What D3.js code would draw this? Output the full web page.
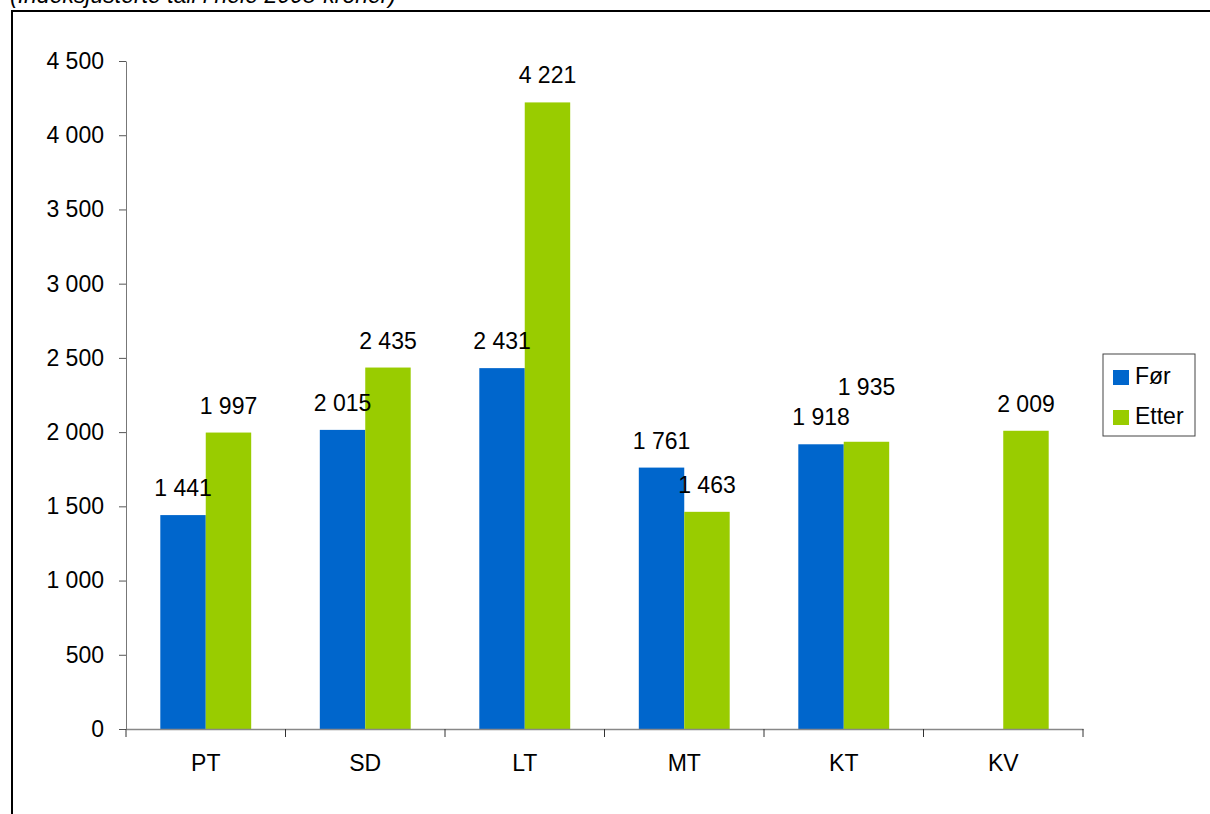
<!DOCTYPE html>
<html>
<head>
<meta charset="utf-8">
<script src="https://cdn.jsdelivr.net/npm/d3@7"></script>
<style>
  body { margin: 0; background: #fff; }
  svg { display: block; font-family: "Liberation Sans", Arial, sans-serif; }
</style>
</head>
<body>
<svg id="chart"></svg>
<script>
// data
const categories = [ 'PT', 'SD', 'LT', 'MT', 'KT', 'KV' ];
const series = [ 'Før', 'Etter' ];
const forValues = [ 1441, 2015, 2431, 1761, 1918, null ];
const etterValues = [ 1997, 2435, 4221, 1463, 1935, 2009 ];
const yTicks = [ 0, 500, 1000, 1500, 2000, 2500, 3000, 3500, 4000, 4500 ];
const colors = [ '#0066cc', '#99cc00' ];
const subtitle = '(Indeksjusterte tall i hele 2008-kroner)';

const width = 1210, height = 814;
const margin = { top: 61, right: 127, bottom: 85, left: 126 };
const fontSize = '23px';

const svg = d3.select( '#chart' )
    .attr( 'width', width )
    .attr( 'height', height );

// clipped subtitle and outer frame
svg.append( 'text' )
    .attr( 'x', 10 )
    .attr( 'y', 3 )
    .style( 'font-size', fontSize )
    .style( 'font-style', 'italic' )
    .text( subtitle );

svg.append( 'path' )
    .attr( 'd', `M12,${height + 5} V11 H${width + 5}` )
    .attr( 'fill', 'none' )
    .attr( 'stroke', '#000' )
    .attr( 'stroke-width', 2 );

const innerW = width - margin.left - margin.right;
const innerH = height - margin.top - margin.bottom;

const chart = svg.append( 'g' )
    .attr( 'transform', `translate(${margin.left}, ${margin.top})` );

const xscale = d3.scaleBand()
    .domain( categories )
    .range( [ 0, innerW ] );

const xsub = d3.scaleBand()
    .domain( series )
    .range( [ 0, xscale.bandwidth() ] )
    .paddingOuter( 0.755 );

const yscale = d3.scaleLinear()
    .domain( [ 0, 4500 ] )
    .range( [ innerH, 0 ] );

const fmt = v => d3.format( ',' )( v ).replace( /,/g, ' ' );

// y axis
const yaxis = d3.axisLeft( yscale )
    .tickValues( yTicks )
    .tickSize( 7 )
    .tickSizeOuter( 0 )
    .tickPadding( 15 )
    .tickFormat( fmt );

const yg = chart.append( 'g' ).call( yaxis );
yg.select( '.domain' ).attr( 'stroke', '#777' );
yg.selectAll( '.tick line' ).attr( 'stroke', '#555' );
yg.selectAll( 'text' )
    .style( 'font-size', fontSize )
    .attr( 'fill', '#000' );

// bars
const rows = categories.map( ( c, i ) => ( { cat: c, values: [ forValues[i], etterValues[i] ] } ) );

const groups = chart.selectAll( '.grp' )
    .data( rows )
    .join( 'g' )
    .attr( 'class', 'grp' )
    .attr( 'transform', d => `translate(${xscale( d.cat )}, 0)` );

groups.selectAll( 'rect' )
    .data( d => d.values.map( ( v, j ) => ( { s: series[j], v: v, j: j } ) ).filter( e => e.v != null ) )
    .join( 'rect' )
    .attr( 'x', e => xsub( e.s ) )
    .attr( 'y', e => yscale( e.v ) )
    .attr( 'width', xsub.bandwidth() )
    .attr( 'height', e => innerH - yscale( e.v ) )
    .attr( 'fill', e => colors[e.j] );

// value labels, pushing the second one up when the two would overlap
groups.each( function( d ) {
    const g = d3.select( this );
    let prevY = null;
    d.values.forEach( ( v, j ) => {
        if ( v == null ) return;
        let y = yscale( v ) - 19;
        if ( prevY != null && Math.abs( y - prevY ) < 22 ) y = prevY - 30;
        prevY = y;
        g.append( 'text' )
            .attr( 'x', xsub( series[j] ) + xsub.bandwidth() / 2 )
            .attr( 'y', y )
            .attr( 'text-anchor', 'middle' )
            .style( 'font-size', fontSize )
            .text( fmt( v ) );
    } );
} );

// x axis
const xaxis = d3.axisBottom( xscale )
    .tickSize( 0 )
    .tickPadding( 26 );

const xg = chart.append( 'g' )
    .attr( 'transform', `translate(0, ${innerH})` )
    .call( xaxis );
xg.select( '.domain' ).attr( 'stroke', '#888' ).attr( 'stroke-width', 1.5 );
xg.selectAll( 'text' )
    .style( 'font-size', fontSize )
    .attr( 'fill', '#000' );

const bounds = categories.map( c => xscale( c ) ).concat( [ innerW ] );
xg.selectAll( '.sep' )
    .data( bounds )
    .join( 'line' )
    .attr( 'class', 'sep' )
    .attr( 'x1', d => d ).attr( 'x2', d => d )
    .attr( 'y1', 0 ).attr( 'y2', 8 )
    .attr( 'stroke', '#333' );

// legend
const legend = svg.append( 'g' )
    .attr( 'transform', 'translate(1103, 354)' );

legend.append( 'rect' )
    .attr( 'width', 92 )
    .attr( 'height', 82 )
    .attr( 'fill', '#fff' )
    .attr( 'stroke', '#444' );

series.forEach( ( s, i ) => {
    legend.append( 'rect' )
        .attr( 'x', 10 )
        .attr( 'y', 16 + i * 40 )
        .attr( 'width', 16 )
        .attr( 'height', 15 )
        .attr( 'fill', colors[i] );
    legend.append( 'text' )
        .attr( 'x', 32 )
        .attr( 'y', 30 + i * 40 )
        .style( 'font-size', fontSize )
        .text( s );
} );
</script>
</body>
</html>
